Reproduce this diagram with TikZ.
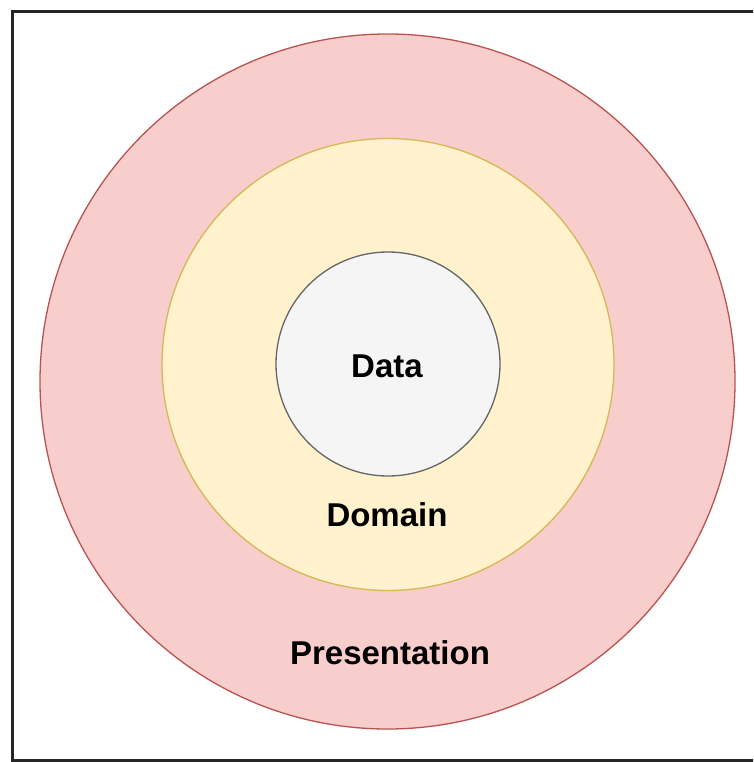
\documentclass[tikz,border=0pt]{standalone}
\usepackage{fontspec}
\setmainfont{Liberation Sans}
\definecolor{presfill}{HTML}{F8CECC}
\definecolor{presdraw}{HTML}{B85450}
\definecolor{domfill}{HTML}{FFF2CC}
\definecolor{domdraw}{HTML}{D6B656}
\definecolor{datafill}{HTML}{F5F5F5}
\definecolor{datadraw}{HTML}{666666}
\begin{document}
\begin{tikzpicture}[x=1pt,y=-1pt,
  ring/.style={circle, line width=1.3pt, inner sep=0pt},
  lbl/.style={font=\fontsize{33}{39}\selectfont\bfseries, text=black}]
\useasboundingbox (0,0) rectangle (753,762);
\begin{scope}
\clip (0,0) rectangle (753,762);
\draw[line width=3pt, black!85] (12,12) rectangle (790,760);
\end{scope}
\node[ring, draw=presdraw, fill=presfill, minimum size=695pt] (pres) at (387.5,381.5) {};
\node[ring, draw=domdraw, fill=domfill, minimum size=452pt] (dom) at (388,364.5) {};
\node[ring, draw=datadraw, fill=datafill, minimum size=224pt] (data) at (388,364) {};
\node[lbl] (datal) at (387,366) {Data};
\node[lbl] (doml) at (387,515) {Domain};
\node[lbl] (presl) at (390,653) {Presentation};
\end{tikzpicture}
\end{document}
